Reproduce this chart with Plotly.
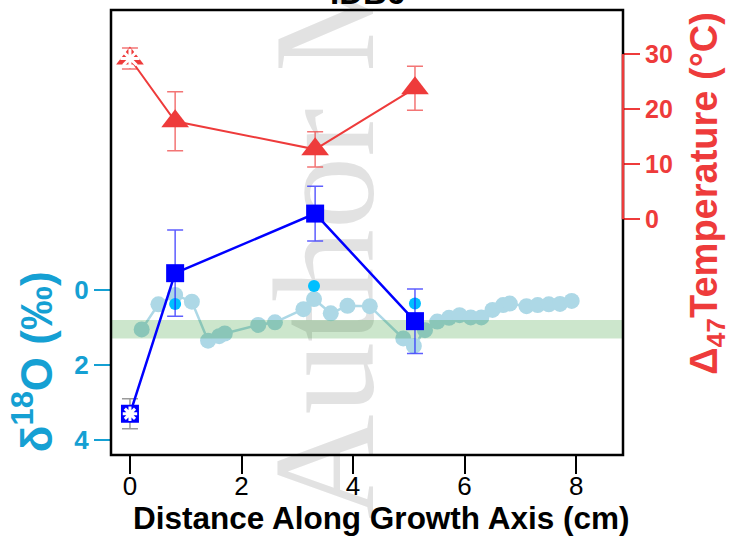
import plotly.graph_objects as go

# ---------------- data ----------------
# micro-sampled d18O profile (light blue circles)
dist_micro = [0.21, 0.51, 0.81, 1.11, 1.40, 1.60, 1.70, 2.30, 2.60, 3.11, 3.30, 3.60,
              3.90, 4.30, 4.90, 5.09, 5.29, 5.51, 5.72, 5.91, 6.11, 6.30, 6.50, 6.69,
              6.81, 7.11, 7.31, 7.51, 7.71, 7.92]
d18o_micro = [1.05, 0.38, 0.13, 0.31, 1.35, 1.23, 1.16, 0.93, 0.86, 0.51, 0.24, 0.62,
              0.42, 0.43, 1.29, 1.49, 1.07, 0.84, 0.74, 0.67, 0.73, 0.73, 0.53, 0.40,
              0.36, 0.43, 0.40, 0.38, 0.37, 0.29]

# bulk d18O of clumped samples (deep sky blue dots)
dist_bulk = [0.81, 3.30, 5.11]
d18o_bulk = [0.37, -0.11, 0.36]

# clumped isotope samples
dist_clumped = [0.0, 0.81, 3.32, 5.11]
d18o_water = [3.30, -0.45, -2.04, 0.83]
d18o_water_err = [0.40, 1.15, 0.73, 0.86]
temp_clumped = [29.2, 17.8, 12.7, 23.8]
temp_err = [1.9, 5.35, 3.2, 4.0]

# modern water band
band_lo, band_hi = 0.80, 1.29

x_ticks = [0, 2, 4, 6, 8]
d18o_ticks = [0, 2, 4]
temp_ticks = [0, 10, 20, 30]

x_range = [-0.34, 8.84]
y_range = [4.4, -7.47]
y2_range = [-42.8, 38.0]

RED = "#EE3B3B"
BLUE = "#0000FF"
CYAN_TXT = "#15A0D3"
FONT = "Liberation Sans"

fig = go.Figure()

# light-blue profile
fig.add_trace(go.Scatter(
    x=dist_micro, y=d18o_micro, mode="lines+markers",
    line=dict(color="#ADD8E6", width=2.5),
    marker=dict(color="#ADD8E6", size=16), yaxis="y", showlegend=False))

# green band (drawn over profile)
fig.add_trace(go.Scatter(
    x=[x_range[0], x_range[1], x_range[1], x_range[0]],
    y=[band_lo, band_lo, band_hi, band_hi],
    fill="toself", fillcolor="rgba(0,128,0,0.2)", mode="none",
    yaxis="y", showlegend=False, hoverinfo="skip"))

# bulk dots
fig.add_trace(go.Scatter(
    x=dist_bulk, y=d18o_bulk, mode="markers",
    marker=dict(color="#00BFFF", size=12), yaxis="y", showlegend=False))

# blue error bars (points 2-4)
fig.add_trace(go.Scatter(
    x=dist_clumped[1:], y=d18o_water[1:], mode="markers",
    marker=dict(size=1, color="rgba(0,0,0,0)"),
    error_y=dict(type="data", array=d18o_water_err[1:], color="rgba(40,40,255,0.75)",
                 thickness=1.5, width=8),
    yaxis="y", showlegend=False))
# gray error bar (point 1)
fig.add_trace(go.Scatter(
    x=dist_clumped[:1], y=d18o_water[:1], mode="markers",
    marker=dict(size=1, color="rgba(0,0,0,0)"),
    error_y=dict(type="data", array=d18o_water_err[:1], color="#9a9a9a",
                 thickness=1.5, width=8),
    yaxis="y", showlegend=False))
# blue squares + line
fig.add_trace(go.Scatter(
    x=dist_clumped, y=d18o_water, mode="lines+markers",
    line=dict(color=BLUE, width=2.5),
    marker=dict(symbol="square", color=BLUE, size=18), yaxis="y", showlegend=False))
fig.add_trace(go.Scatter(
    x=dist_clumped[:1], y=d18o_water[:1], mode="markers",
    marker=dict(symbol="asterisk-open", size=12, color="white",
                line=dict(color="white", width=3)),
    yaxis="y", showlegend=False))

# red error bars
fig.add_trace(go.Scatter(
    x=dist_clumped, y=temp_clumped, mode="markers",
    marker=dict(size=1, color="rgba(0,0,0,0)"),
    error_y=dict(type="data", array=temp_err, color="rgba(238,59,59,0.7)",
                 thickness=1.5, width=8),
    yaxis="y2", showlegend=False))
# red triangles + line
fig.add_trace(go.Scatter(
    x=dist_clumped, y=temp_clumped, mode="lines+markers",
    line=dict(color=RED, width=2),
    marker=dict(symbol="triangle-up", color=RED, size=24), yaxis="y2", showlegend=False))
fig.add_trace(go.Scatter(
    x=dist_clumped[:1], y=temp_clumped[:1], mode="markers",
    marker=dict(symbol="asterisk-open", size=16, color="white",
                line=dict(color="white", width=3)),
    yaxis="y2", showlegend=False))

fig.update_layout(
    width=731, height=537,
    margin=dict(l=111, r=107.5, t=10, b=82),
    paper_bgcolor="white", plot_bgcolor="rgba(0,0,0,0)",
    showlegend=False,
    xaxis=dict(range=x_range, tickvals=x_ticks, ticks="outside", ticklen=18,
               tickwidth=2, tickcolor="black", showgrid=False, zeroline=False,
               showline=False, ticklabelstandoff=-10,
               tickfont=dict(family=FONT, size=26, color="black")),
    yaxis=dict(range=y_range, tickvals=d18o_ticks, ticks="outside", ticklen=16,
               tickwidth=2, tickcolor=CYAN_TXT, showgrid=False, zeroline=False,
               showline=False,
               tickfont=dict(family=FONT, size=26, color=CYAN_TXT, weight="bold")),
    yaxis2=dict(range=y2_range, tickvals=temp_ticks, ticks="outside", ticklen=16,
                tickwidth=2, tickcolor=RED, showgrid=False, zeroline=False,
                showline=False, overlaying="y", side="right", anchor="x",
                tickfont=dict(family=FONT, size=25, color=RED, weight="bold")),
    shapes=[
        dict(type="rect", xref="paper", yref="paper", x0=0.36, x1=0.41, y0=1.07, y1=1.13,
             line=dict(width=0), fillcolor="rgba(0,0,0,0)", layer="below",
             label=dict(text="Author Manuscript", textangle=-90,
                        textposition="middle center",
                        font=dict(family="Liberation Serif", size=145, color="#e2e2e2"))),
        dict(type="rect", xref="paper", yref="paper", x0=0, x1=1, y0=0, y1=1,
             line=dict(color="black", width=2.5), layer="above"),
        dict(type="line", xref="paper", yref="y2", x0=1, x1=1, y0=0, y1=30,
             line=dict(color=RED, width=2.5), layer="above"),
    ],
    annotations=[
        dict(text="IDB6", xref="paper", yref="paper", x=0.5, y=1, yanchor="bottom",
             yshift=-3, showarrow=False,
             font=dict(family=FONT, size=33, color="black", weight="bold")),
        dict(text="Distance Along Growth Axis (cm)", xref="paper", yref="paper",
             x=0.527, y=-0.141, xanchor="center", yanchor="middle", showarrow=False,
             font=dict(family=FONT, size=31.5, color="black", weight="bold")),
        dict(text="δ<sup>18</sup>O (‰)", xref="paper", yref="paper",
             x=-0.152, y=0.209, xanchor="center", yanchor="middle", textangle=-90,
             showarrow=False,
             font=dict(family=FONT, size=44, color=CYAN_TXT, weight="bold")),
        dict(text="Δ<sub>47</sub>Temperature (°C)", xref="paper", yref="paper",
             x=1.165, y=0.588, xanchor="center", yanchor="middle", textangle=-90,
             showarrow=False,
             font=dict(family=FONT, size=38, color=RED, weight="bold")),
    ],
)

fig.write_html("out.html")
